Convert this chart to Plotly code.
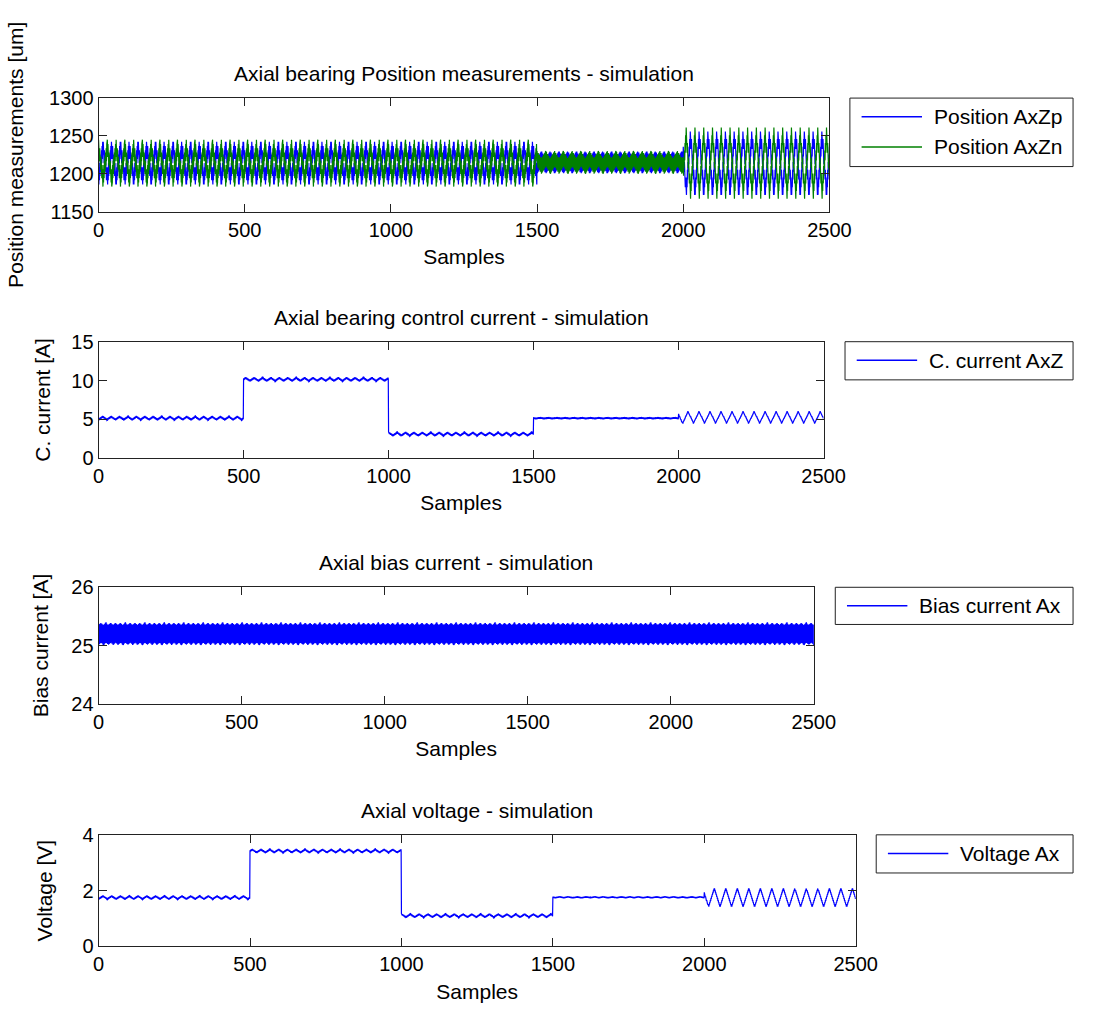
import numpy as np
import plotly.graph_objects as go

# ---------------- data ----------------
SAMPLE_MAX = 2500
SEG_EDGES = [0, 500, 1000, 1500, 2000, 2500]

# Axial position measurements [um] (per segment: centre, slow swing, fast jitter, swing period in samples)
POS_CENTER = [1214, 1214, 1214, 1215, 1214]
POS_SWING = [21, 21, 21, 5, 38]
POS_JITTER = [10, 10, 10, 10, 9]
POS_PERIOD = [30, 30, 30, 30, 30]

# Axial bearing control current [A]
CC_LEVEL = [5.15, 10.15, 3.1, 5.15, 5.25]
CC_SWING = [0.18, 0.18, 0.18, 0.04, 0.8]
CC_JITTER = [0.12, 0.12, 0.12, 0.1, 0.08]
CC_PERIOD = [29, 29, 29, 29, 38]

# Axial bias current [A]
BIAS_LEVEL = [25.2, 25.2, 25.2, 25.2, 25.2]
BIAS_SWING = [0.02, 0.02, 0.02, 0.02, 0.02]
BIAS_JITTER = [0.17, 0.17, 0.17, 0.17, 0.17]
BIAS_PERIOD = [17, 17, 17, 17, 17]

# Axial voltage [V]
V_LEVEL = [1.75, 3.42, 1.1, 1.76, 1.75]
V_SWING = [0.05, 0.05, 0.05, 0.015, 0.33]
V_JITTER = [0.03, 0.03, 0.03, 0.02, 0.03]
V_PERIOD = [29, 29, 29, 29, 38]

X_TICKS = [0, 500, 1000, 1500, 2000, 2500]

samples = np.arange(SAMPLE_MAX + 1)


def build(level, swing, jitter, period, phase=0.0):
    y = np.empty(len(samples), dtype=float)
    for i in range(len(SEG_EDGES) - 1):
        a, b = SEG_EDGES[i], SEG_EDGES[i + 1]
        m = (samples >= a) & ((samples < b) | ((b == SAMPLE_MAX) & (samples <= b)))
        t = samples[m]
        tri = 1 - 4 * np.abs(((t / period[i] + phase) % 1) - 0.5)
        alt = np.where(t % 2 == 0, 1.0, -1.0)
        y[m] = level[i] + swing[i] * tri + jitter[i] * alt
    return y


pos_p = build(POS_CENTER, POS_SWING, POS_JITTER, POS_PERIOD, 0.0)
pos_n = build(POS_CENTER, POS_SWING, POS_JITTER, POS_PERIOD, 0.5)
c_cur = build(CC_LEVEL, CC_SWING, CC_JITTER, CC_PERIOD)
bias = build(BIAS_LEVEL, BIAS_SWING, BIAS_JITTER, BIAS_PERIOD)
volt = build(V_LEVEL, V_SWING, V_JITTER, V_PERIOD)

# ---------------- layout ----------------
W, H = 1097, 1019
FONT = "Liberation Sans"
TXT = 21
TICK = 20
BLUE = "#0000FF"
GREEN = "#008000"

panels = [
    dict(x=(95, 845), y=(89, 205), yr=[1150, 1300], dt=50, ytitle="Position measurements [um]",
         so=19, title="Axial bearing Position measurements - simulation", leg=(866, 1095, 89, 159)),
    dict(x=(95, 839), y=(338, 457), yr=[0, 15], dt=5, ytitle="C. current [A]",
         so=14, title="Axial bearing control current - simulation", leg=(861, 1095, 338, 377)),
    dict(x=(95, 829), y=(589, 708), yr=[24, 26], dt=1, ytitle="Bias current [A]",
         so=16, title="Axial bias current - simulation", leg=(851, 1095, 589, 627)),
    dict(x=(95, 872), y=(842, 956), yr=[0, 4], dt=2, ytitle="Voltage [V]",
         so=24, title="Axial voltage - simulation", leg=(893, 1095, 842, 881)),
]

series = [
    (0, "Position AxZp", pos_p, BLUE),
    (0, "Position AxZn", pos_n, GREEN),
    (1, "C. current AxZ", c_cur, BLUE),
    (2, "Bias current Ax", bias, BLUE),
    (3, "Voltage Ax", volt, BLUE),
]

fig = go.Figure()
for k, name, yv, col in series:
    suf = "" if k == 0 else str(k + 1)
    fig.add_trace(go.Scatter(
        x=samples, y=yv, mode="lines", name=name,
        line=dict(color=col, width=1.2),
        xaxis="x" + suf, yaxis="y" + suf, showlegend=False,
    ))

layout = dict(
    width=W, height=H, margin=dict(l=0, r=0, t=0, b=0),
    paper_bgcolor="white", plot_bgcolor="white",
    font=dict(family=FONT, size=TXT, color="black"),
    showlegend=False, annotations=[], shapes=[],
)


def px(xp):
    return xp / W


def py(yp):
    return 1 - yp / H


for k, p in enumerate(panels):
    suf = "" if k == 0 else str(k + 1)
    xd = [px(p["x"][0]), px(p["x"][1])]
    yd = [py(p["y"][1]), py(p["y"][0])]
    common = dict(showline=True, linecolor="#222222", linewidth=1, mirror="allticks",
                  ticks="inside", ticklen=8, tickcolor="#222222", showgrid=False,
                  zeroline=False, tickfont=dict(size=TICK))
    layout["xaxis" + suf] = dict(common, domain=xd, range=[0, SAMPLE_MAX], tickvals=X_TICKS,
                                 anchor="y" + suf,
                                 title=dict(text="Samples", standoff=9, font=dict(size=TXT)))
    layout["yaxis" + suf] = dict(common, domain=yd, range=p["yr"], dtick=p["dt"], tick0=p["yr"][0],
                                 anchor="x" + suf,
                                 title=dict(text=p["ytitle"], standoff=p["so"], font=dict(size=TXT)))
    layout["annotations"].append(dict(
        text=p["title"], xref="x" + suf + " domain", yref="y" + suf + " domain",
        x=0.5, y=1, yshift=11, xanchor="center", yanchor="bottom", showarrow=False,
        font=dict(size=TXT)))

    # legend box (drawn like the MATLAB legend)
    l, r, t, b = p["leg"]
    layout["shapes"].append(dict(type="rect", xref="paper", yref="paper",
                                 x0=px(l), x1=px(r), y0=py(b), y1=py(t),
                                 line=dict(color="#222222", width=1), fillcolor="white", layer="above"))
    entries = [s for s in series if s[0] == k]
    for j, (_, name, _, col) in enumerate(entries):
        yc = t + 19 + 31 * j
        layout["shapes"].append(dict(type="line", xref="paper", yref="paper",
                                     x0=px(l + 12), x1=px(l + 74), y0=py(yc), y1=py(yc),
                                     line=dict(color=col, width=1.5), layer="above"))
        layout["annotations"].append(dict(
            text=name, xref="paper", yref="paper", x=px(l + 84), y=py(yc),
            xanchor="left", yanchor="middle", showarrow=False, font=dict(size=TXT)))

fig.update_layout(**layout)
fig.write_html("out.html")
